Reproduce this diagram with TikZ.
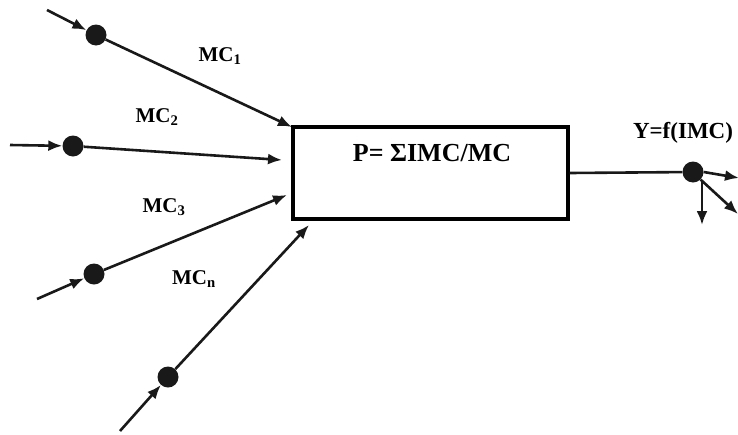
\documentclass[tikz,border=0pt]{standalone}
\usepackage{fontspec}
\setmainfont{Liberation Serif}
\usetikzlibrary{arrows.meta}
\begin{document}
\begin{tikzpicture}[x=1pt,y=-1pt,
  dot/.style={circle,fill=black!90,inner sep=0pt,minimum size=21pt},
  conn/.style={line width=2.6pt,draw=black!90,-{Latex[length=14pt,width=11pt]}},
  lbl/.style={font=\fontsize{21}{24}\selectfont\bfseries,inner sep=0pt},
  blk/.style={draw=black,line width=3.2pt,minimum width=275pt,minimum height=92pt,inner sep=0pt}]
\useasboundingbox (0,0) rectangle (738,434);
% main box
\node[blk] (box) at (430.5,173) {};
\node[lbl,font=\fontsize{26}{30}\selectfont\bfseries] (ptext) at (432,153) {P= ΣIMC/MC};
% input 1
\coordinate (s1) at (47,10);
\node[dot] (d1) at (96,35) {};
\coordinate (e1) at (292,127);
\draw[conn] (s1) -- (d1);
\draw[conn] (d1) -- (e1);
\node[lbl] (l1) at (220,56) {MC\textsubscript{1}};
% input 2
\coordinate (s2) at (10,145);
\node[dot] (d2) at (73,146) {};
\coordinate (e2) at (282,160);
\draw[conn] (s2) -- (d2);
\draw[conn] (d2) -- (e2);
\node[lbl] (l2) at (157,117) {MC\textsubscript{2}};
% input 3
\coordinate (s3) at (37,299);
\node[dot] (d3) at (94,274) {};
\coordinate (e3) at (287,195);
\draw[conn] (s3) -- (d3);
\draw[conn] (d3) -- (e3);
\node[lbl] (l3) at (164,207) {MC\textsubscript{3}};
% input n
\coordinate (sn) at (120,431);
\node[dot] (dn) at (168,377) {};
\coordinate (en) at (309,225);
\draw[conn] (sn) -- (dn);
\draw[conn] (dn) -- (en);
\node[lbl] (ln) at (194,279) {MC\textsubscript{n}};
% output
\node[dot] (dy) at (693,172) {};
\draw[line width=2.6pt,draw=black!90] (box.east) -- (dy);
\node[lbl,font=\fontsize{23}{27}\selectfont\bfseries] (ly) at (683,133) {Y=f(IMC)};
\coordinate (o1) at (739,178);
\coordinate (o2) at (738,214);
\coordinate (o3) at (702,225);
\draw[conn] (dy.east) -- (o1);
\draw[conn] (dy.south east) -- (o2);
\draw[conn] (702,182) -- (o3);
\end{tikzpicture}
\end{document}
